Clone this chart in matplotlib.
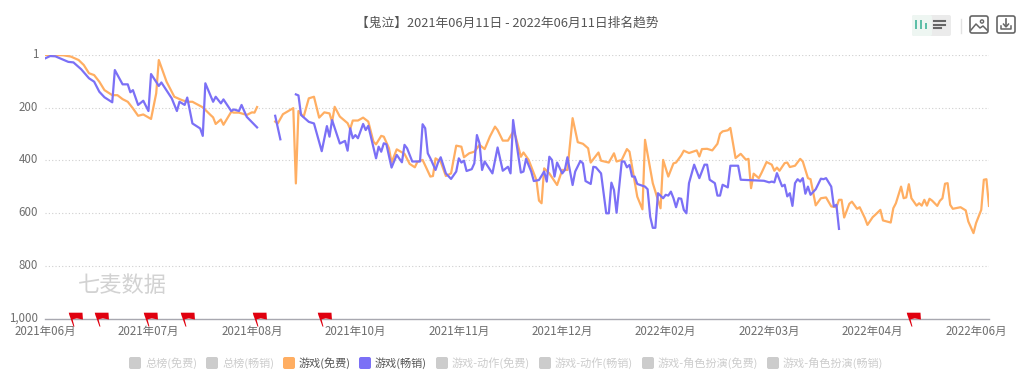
import numpy as np
import matplotlib
matplotlib.use('Agg')
import matplotlib.pyplot as plt
from matplotlib.patches import FancyBboxPatch, Rectangle, Polygon, Circle
from matplotlib.path import Path
from matplotlib.transforms import ScaledTranslation

plt.rcParams['font.family'] = ['Noto Sans CJK SC', 'DejaVu Sans']

title = '【鬼泣】2021年06月11日 - 2022年06月11日排名趋势'
watermark = '七麦数据'
x_labels = ['2021年06月', '2021年07月', '2021年08月', '2021年10月', '2021年11月',
            '2021年12月', '2022年02月', '2022年03月', '2022年04月', '2022年06月']
x_ticks = [0, 40, 80, 120, 160, 200, 240, 280, 320, 360]
y_ticks = [1, 200, 400, 600, 800, 1000]
y_labels = ['1', '200', '400', '600', '800', '1,000']
n_days = 365

# days since 2021-06-11, nan = no rank that day
free_days = [0, 2, 7, 10, 13, 15, 17, 19, 21, 23, 26, 28, 30, 32, 34, 36, 38, 41, 43, 44, 47, 48, 50, 53, 55, 57,
             61, 64, 65, 66, 68, 69, 72, 73, 75, 78, 80, 81, 82, 85, 89, 90, 92, 96, 97, 98, 100, 102, 104, 106, 108,
             110, 111, 112, 114, 117, 118, 119, 121, 123, 125, 127, 128, 130, 131, 133, 134, 136, 139, 141, 143, 144,
             146, 149, 150, 151, 153, 155, 157, 159, 161, 162, 164, 166, 168, 170, 172, 174, 175, 177, 179, 181, 182,
             184, 185, 187, 190, 191, 192, 193, 195, 198, 200, 202, 204, 206, 208, 210, 211, 214, 215, 218, 220, 221,
             223, 225, 226, 229, 231, 232, 235, 238, 239, 241, 243, 244, 246, 247, 249, 252, 253, 254, 256, 258, 260,
             261, 262, 264, 265, 267, 269, 271, 272, 273, 274, 276, 277, 279, 281, 282, 283, 284, 286, 287, 288, 290,
             292, 293, 295, 296, 298, 300, 302, 304, 306, 307, 308, 309, 311, 312, 314, 315, 317, 318, 320, 321, 323,
             324, 327, 328, 329, 331, 332, 333, 334, 335, 337, 338, 339, 340, 341, 342, 343, 345, 346, 347, 348, 349,
             350, 351, 354, 356, 357, 359, 360, 362, 363, 364, 365]
free_rank = [1, 1, 2, 7, 20, 39, 70, 77, 102, 134, 153, 153, 168, 178, 203, 231, 226, 243, 146, 20, 102, 121, 159, 172,
             178, 178, 199, 228, 237, 262, 245, 265, 216, 219, 219, 228, 218, 219, 198, np.nan, 253, 260, 225, 202, 487,
             213, 235, 165, 159, 238, 218, 222, 254, 197, 234, 259, 281, 249, 249, 238, 253, 329, 339, 307, 310, 354,
             408, 358, 375, 413, 426, 405, 398, 461, 459, 392, 405, 459, 449, 344, 348, 388, 373, 367, 341, 357, 310,
             272, 285, 325, 325, 291, 310, 386, 370, 398, 474, 552, 562, 430, 449, 493, 436, 436, 240, 331, 337, 354,
             408, 370, 401, 408, 373, 404, 398, 357, 367, 537, 585, 322, 486, 581, 398, 461, 411, 408, 381, 363, 372,
             362, 385, 357, 356, 362, 337, 299, 290, 286, 277, 391, 375, 397, 394, 505, 450, 467, 448, 406, 416, 439,
             427, 439, 410, 408, 425, 420, 394, 404, 467, 471, 570, 543, 540, 574, 577, 549, 549, 616, 564, 556, 583,
             577, 618, 644, 615, 606, 587, 627, 635, 581, 562, 499, 543, 540, 490, 543, 571, 562, 571, 549, 571, 545,
             552, 572, 553, 543, 488, 486, 568, 583, 577, 589, 631, 675, 637, 587, 473, 471, 572]

paid_days = [0, 2, 4, 9, 11, 14, 17, 19, 21, 23, 26, 27, 30, 32, 33, 34, 36, 38, 40, 41, 44, 45, 49, 51, 52, 54, 55, 57,
             60, 61, 62, 65, 66, 68, 69, 72, 73, 75, 76, 78, 82, 85, 89, 91, 94, 97, 98, 99, 102, 104, 107, 109, 110,
             111, 114, 116, 117, 118, 119, 120, 121, 123, 124, 125, 128, 129, 130, 131, 132, 134, 136, 138, 139, 140,
             142, 145, 146, 147, 148, 149, 151, 152, 153, 155, 157, 159, 160, 161, 162, 163, 165, 166, 167, 168, 169,
             170, 173, 175, 177, 179, 180, 181, 182, 184, 185, 186, 188, 189, 191, 193, 194, 195, 196, 197, 198, 200,
             201, 202, 204, 205, 207, 208, 209, 211, 212, 213, 215, 217, 218, 219, 220, 221, 223, 224, 225, 226, 227,
             228, 229, 232, 233, 234, 235, 236, 237, 239, 240, 241, 242, 243, 244, 245, 246, 247, 248, 249, 251, 253,
             255, 256, 257, 259, 260, 261, 262, 264, 265, 268, 269, 278, 280, 281, 282, 283, 285, 286, 287, 288, 289,
             290, 291, 292, 293, 294, 295, 296, 298, 300, 301, 302, 304, 305, 306, 307]
paid_rank = [14, 5, 6, 27, 29, 55, 89, 102, 140, 161, 180, 58, 112, 112, 142, 134, 190, 174, 213, 73, 118, 105, 165,
             213, 178, 190, 162, 260, 279, 307, 108, 178, 159, 184, 169, 213, 207, 213, 190, 235, 275, np.nan, 231, 320,
             np.nan, 150, 154, 228, 254, 260, 365, 270, 310, 247, 336, 326, 363, 278, 316, 304, 316, 262, 285, 269, 392,
             348, 367, 335, 339, 427, 379, 407, 341, 354, 404, 404, 263, 278, 373, 392, 436, 407, 388, 449, 470, 442,
             392, 408, 401, 440, 433, 411, 304, 335, 436, 404, 449, 351, 439, 424, 449, 247, 316, 446, 442, 394, 442,
             478, 474, 442, 480, 386, 398, 461, 408, 449, 436, 388, 493, 442, 402, 411, 478, 489, 424, 426, 449, 600,
             600, 484, 512, 598, 404, 404, 426, 417, 461, 461, 489, 499, 509, 613, 655, 655, 524, 543, 530, 533, 518,
             543, 577, 543, 545, 587, 600, 486, 416, 467, 416, 416, 473, 486, 533, 533, 492, 502, 420, 420, 473, 477,
             483, 480, 483, 448, 498, 492, 536, 524, 572, 486, 471, 480, 467, 526, 499, 530, 509, 469, 471, 467, 499,
             574, 568, 659]

flag_days = [11, 21, 40, 54, 82, 107, 335]
flag_rank = [1000, 1000, 1000, 1000, 1000, 1000, 1000]

legend_names = ['总榜(免费)', '总榜(畅销)', '游戏(免费)', '游戏(畅销)', '游戏-动作(免费)',
                '游戏-动作(畅销)', '游戏-角色扮演(免费)', '游戏-角色扮演(畅销)']
legend_on = [False, False, True, True, False, False, False, False]

free_color = '#FFAE62'
paid_color = '#7B70F6'
W, H = 1024, 389

fig = plt.figure(figsize=(W / 100, H / 100), dpi=100, facecolor='white')
ax = fig.add_axes([45 / W, 1 - 319 / H, 944 / W, 264 / H])
ax.set_xlim(0, n_days)
ax.set_ylim(1000, 1)

ax.plot(free_days, free_rank, color=free_color, lw=1.6, solid_joinstyle='round')
ax.plot(paid_days, paid_rank, color=paid_color, lw=1.6, solid_joinstyle='round')

for s in ['top', 'right', 'left']:
    ax.spines[s].set_visible(False)
ax.spines['bottom'].set_color('#A8A8B0')
ax.spines['bottom'].set_linewidth(1)
ax.set_yticks(y_ticks)
ax.set_yticklabels(y_labels)
ax.set_xticks(x_ticks)
ax.set_xticklabels(x_labels)
ax.tick_params(axis='both', length=0, labelsize=8.3, labelcolor='#6E6E6E')
ax.tick_params(axis='x', pad=4)
ax.tick_params(axis='y', pad=5)
for lab in ax.get_yticklabels():
    lab.set_transform(lab.get_transform() + ScaledTranslation(0, 2 / 100, fig.dpi_scale_trans))
ax.set_axisbelow(True)
ax.yaxis.grid(True, color='#CFCFCF', lw=0.8, linestyle=(0, (1, 2)))

flag = Path([(0, -0.75), (-0.45, 0.5), (-0.5, 0.72), (0.95, 0.72), (1, 0.0), (0.35, 0.12), (-0.1, 0.02), (0.1, -0.75), (0, -0.75)])
ax.scatter(flag_days, flag_rank, marker=flag, s=185, color='#E0000F', clip_on=False, zorder=5, linewidths=0)

ax.text(78 / W, 1 - 285 / H, watermark, transform=fig.transFigure, fontsize=16, color='#D2D2D2', va='center')
fig.text(507 / W, 1 - 23 / H, title, fontsize=9.2, color='#555555', ha='center', va='center')

# overlay in pixel coords for legend and toolbox
ui = fig.add_axes([0, 0, 1, 1], zorder=10)
ui.set_xlim(0, W)
ui.set_ylim(H, 0)
ui.axis('off')
ui.patch.set_alpha(0)

legend_box_x = [129, 206, 283, 359, 436, 539, 642, 767]
for name, on, bx in zip(legend_names, legend_on, legend_box_x):
    c = '#CCCCCC'
    if name == '游戏(免费)':
        c = free_color
    if name == '游戏(畅销)':
        c = paid_color
    ui.add_patch(FancyBboxPatch((bx + 2, 359), 8, 8, boxstyle='round,pad=2', fc=c, ec='none'))
    ui.text(bx + 16, 363, name, fontsize=8.0, va='center', color='#555555' if on else '#CCCCCC')

# toolbox
ui.add_patch(FancyBboxPatch((914, 17), 35, 17, boxstyle='round,pad=2', fc='#EBEBEB', ec='none'))
ui.add_patch(FancyBboxPatch((914, 17), 16, 17, boxstyle='round,pad=2', fc='#EEF6F2', ec='none'))
for bx, top in zip([916, 921, 926], [20, 20, 23]):
    ui.add_patch(Rectangle((bx - 1.2, top), 2.4, 29 - top, fc='#5DBFA8', ec='none'))
for ly, lx in zip([21, 24.5, 28], [945, 945, 941]):
    ui.plot([934, lx], [ly, ly], color='#666666', lw=1.5)
ui.plot([961, 961], [19, 33], color='#E2E2E2', lw=1)

ui.add_patch(FancyBboxPatch((972, 18), 14, 13, boxstyle='round,pad=2', fc='none', ec='#666666', lw=1.2))
ui.add_patch(Circle((982, 21.5), 1.6, fc='none', ec='#666666', lw=1))
ui.plot([971, 976, 980, 983, 987], [30, 24, 28, 26, 30], color='#666666', lw=1.1)
ui.add_patch(FancyBboxPatch((999, 18), 14, 13, boxstyle='round,pad=2', fc='none', ec='#666666', lw=1.2))
ui.plot([1006, 1006], [19, 26], color='#666666', lw=1.2)
ui.add_patch(Polygon([(1003, 23.5), (1006, 27), (1009, 23.5)], closed=False, fc='none', ec='#666666', lw=1.1))
ui.plot([1001, 1001, 1011, 1011], [26, 29, 29, 26], color='#666666', lw=1.1)

fig.savefig('out.png', dpi=100)
